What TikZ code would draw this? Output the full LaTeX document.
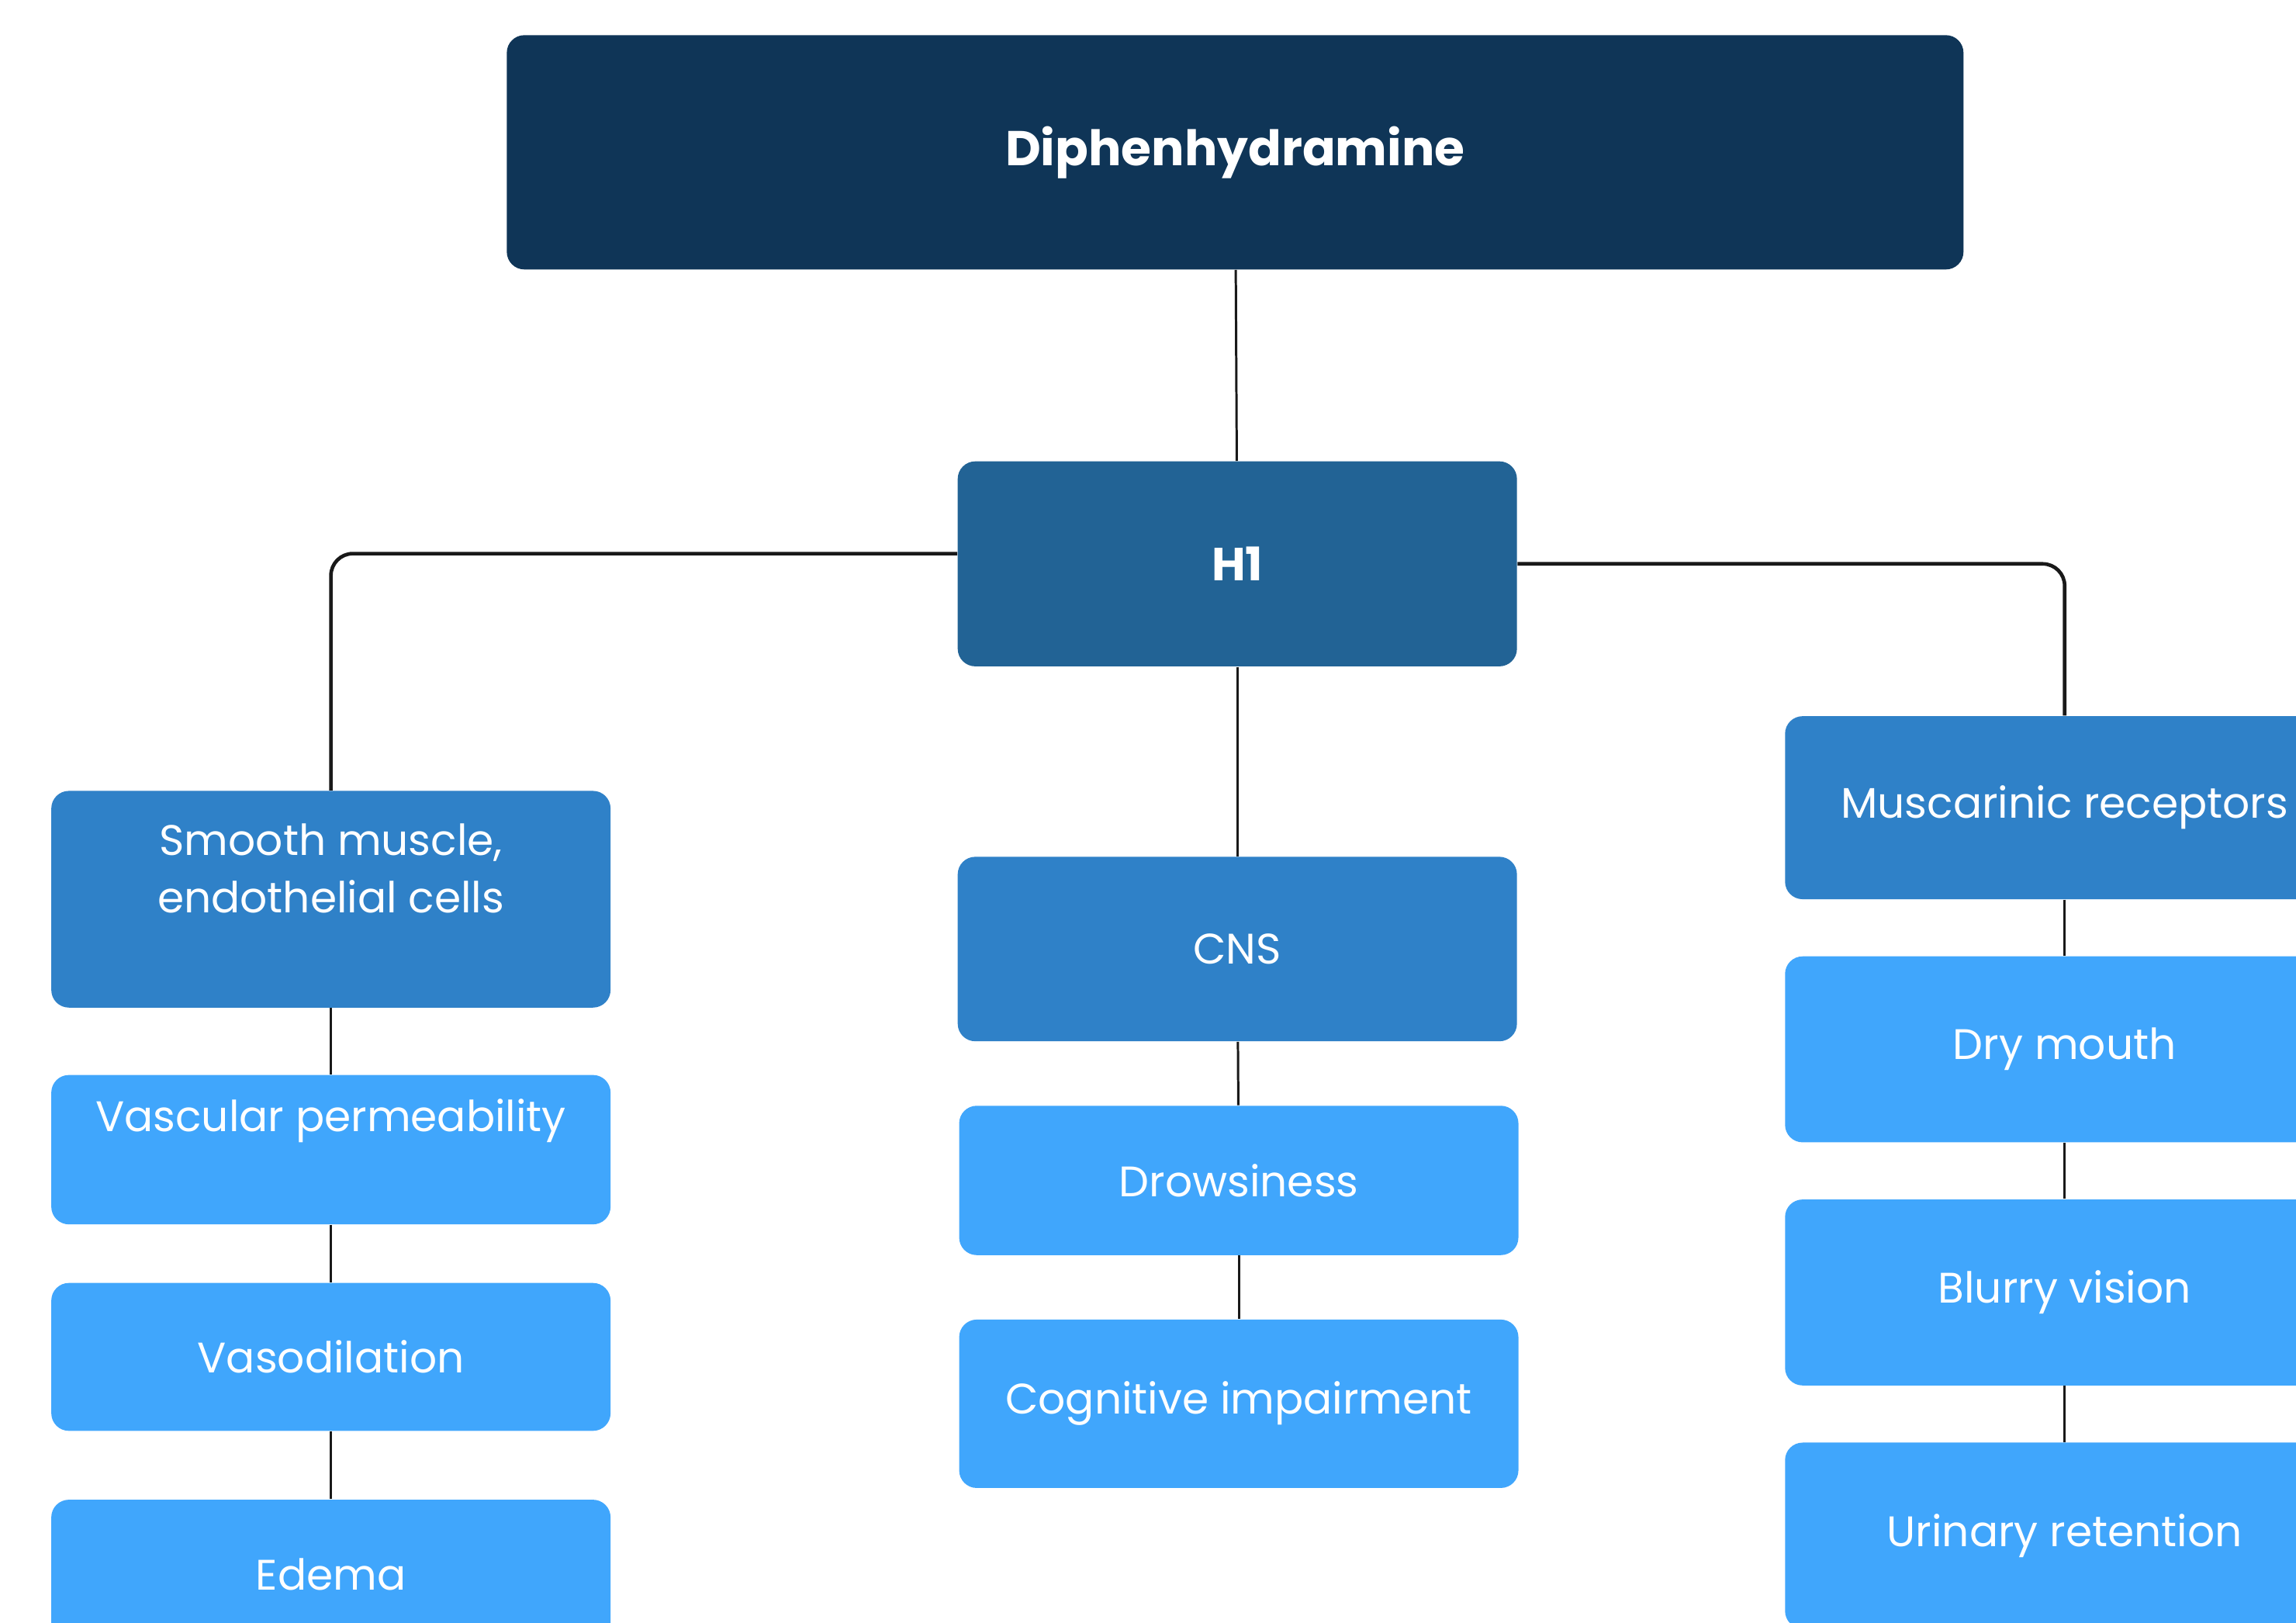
\documentclass[tikz,border=0pt]{standalone}
\usepackage{fontspec}
\setmainfont{Poppins}
\definecolor{navy}{HTML}{0F3557}
\definecolor{hblue}{HTML}{226395}
\definecolor{midblue}{HTML}{2F81C8}
\definecolor{lightblue}{HTML}{40A6FC}
\tikzset{
  box/.style={rounded corners=0.24cm, fill=#1, text=white, minimum width=7.64cm,
    inner sep=0pt, align=center, font=\fontsize{16.6}{22.5}\selectfont},
  link/.style={line width=0.9pt, black!90},
  branch/.style={line width=1.4pt, black!90, rounded corners=0.3cm},
}
\begin{document}
\begin{tikzpicture}[x=0.02cm,y=-0.02cm]
  \useasboundingbox (0,0) rectangle (1568,1108);
  \clip (0,0) rectangle (1568,1108);
  % top of the tree
  \node[box=navy, minimum width=19.9cm, minimum height=3.2cm,
        font=\fontsize{19}{22}\selectfont\bfseries] (dph) at (843.5,104) {Diphenhydramine};
  \node[box=hblue, minimum height=2.8cm, font=\fontsize{18}{22}\selectfont\bfseries] (h1) at (845,385) {H1};
  % left column
  \node[box=midblue, minimum height=2.96cm, text depth=0.85cm] (smc) at (226,614) {Smooth muscle,\\endothelial cells};
  \node[box=lightblue, minimum height=2.04cm, text depth=0.95cm] (vasc) at (226,785) {Vascular permeability};
  \node[box=lightblue, minimum height=2.02cm] (vaso) at (226,926.5) {Vasodilation};
  \node[box=lightblue, minimum height=2.04cm] (edema) at (226,1075) {Edema};
  % middle column
  \node[box=midblue, minimum height=2.52cm] (cns) at (845,648) {CNS};
  \node[box=lightblue, minimum height=2.04cm] (drow) at (846,806) {Drowsiness};
  \node[box=lightblue, minimum height=2.3cm] (cog) at (846,958.5) {Cognitive impairment};
  % right column
  \node[box=midblue, minimum height=2.5cm] (musc) at (1410,551.5) {Muscarinic receptors};
  \node[box=lightblue, minimum height=2.54cm] (dry) at (1410,716.5) {Dry mouth};
  \node[box=lightblue, minimum height=2.54cm] (blur) at (1410,882.5) {Blurry vision};
  \node[box=lightblue, minimum height=2.54cm] (urin) at (1410,1048.5) {Urinary retention};

  \draw[link] (dph) -- (h1);
  \draw[branch] ([yshift=0.14cm]h1.west) -| (smc);
  \draw[branch] (h1.east) -| (musc);
  \foreach \a/\b in {smc/vasc, vasc/vaso, vaso/edema, h1/cns, cns/drow, drow/cog,
                     musc/dry, dry/blur, blur/urin}
    \draw[link] (\a) -- (\b);
\end{tikzpicture}
\end{document}
